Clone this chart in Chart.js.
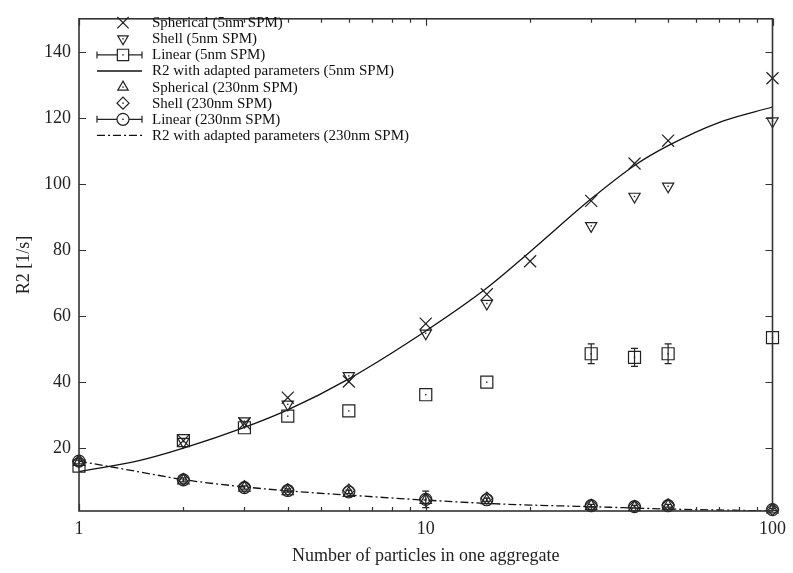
<!DOCTYPE html>
<html><head><meta charset="utf-8">
<script src="https://cdn.jsdelivr.net/npm/chart.js@4/dist/chart.umd.min.js"></script>
<style>html,body{margin:0;padding:0;background:#fff;}</style>
</head><body>
<canvas id="c" width="793" height="573"></canvas>
<script>
// ---- tick labels ----
const xTickValues = [1, 10, 100];
const xMinorTicks = [2,3,4,5,6,7,8,9,20,30,40,50,60,70,80,90];
const yTickValues = [20, 40, 60, 80, 100, 120, 140];

// ---- legend labels ----
const legendLabels = [
  'Spherical (5nm SPM)',
  'Shell (5nm SPM)',
  'Linear (5nm SPM)',
  'R2 with adapted parameters (5nm SPM)',
  'Spherical (230nm SPM)',
  'Shell (230nm SPM)',
  'Linear (230nm SPM)',
  'R2 with adapted parameters (230nm SPM)'
];

// ---- 5nm SPM ----
const spherical5X = [2, 3, 4, 6, 10, 15, 20, 30, 40, 50, 100];
const spherical5Y = [22.3, 27.5, 35.3, 40.2, 57.7, 66.6, 76.6, 94.9, 106.2, 113.1, 132.0];
const shell5X = [2, 3, 4, 6, 10, 15, 30, 40, 50, 100];
const shell5Y = [22.0, 28.2, 33.3, 41.9, 54.8, 63.8, 87.3, 96.2, 99.3, 119.0];
const linear5X = [1, 2, 3, 4, 6, 10, 15, 30, 40, 50, 100];
const linear5Y = [14.6, 22.3, 26.2, 29.7, 31.3, 36.2, 40.0, 48.6, 47.5, 48.6, 53.5];
const linear5Err = [0, 0, 0, 0, 0, 0, 0, 3.0, 2.7, 3.0, 0];
const fit5X = [1, 1.5, 2, 3, 4, 6, 10, 15, 20, 30, 40, 50, 70, 100];
const fit5Y = [12.9, 16.3, 20.0, 26.3, 31.6, 41.0, 55.5, 68.5, 79.5, 95.5, 105.6, 111.6, 118.6, 123.3];

// ---- 230nm SPM ----
const n230X = [1, 2, 3, 4, 6, 10, 15, 30, 40, 50, 100];
const spherical230Y = [15.8, 10.2, 8.0, 6.9, 6.4, 4.3, 4.2, 2.5, 2.1, 2.5, 1.4];
const shell230Y = [16.0, 10.6, 8.4, 7.5, 7.3, 4.6, 4.9, 2.7, 2.4, 2.9, 1.5];
const linear230Y = [16.1, 10.4, 8.1, 7.2, 6.8, 4.5, 4.4, 2.6, 2.3, 2.6, 1.4];
const linear230Err = [0.8, 0.6, 0.5, 0.5, 0.5, 2.5, 0.5, 0.4, 0.4, 0.4, 0.3];
const fit230X = [1, 1.5, 2, 3, 4, 6, 10, 15, 20, 30, 40, 50, 70, 100];
const fit230Y = [16.1, 12.8, 10.5, 8.3, 7.1, 5.8, 4.3, 3.3, 2.8, 2.3, 1.9, 1.6, 1.3, 1.0];

const INK = '#222';
const FONT = "'Liberation Serif', 'DejaVu Serif', serif";
const pts = (xs, ys) => xs.map((x, i) => ({x: x, y: ys[i]}));

function markerDS(label, xs, ys, style, radius, rotation, errs) {
  return {
    type: 'scatter', label: label, data: pts(xs, ys),
    pointStyle: style, pointRadius: radius, pointRotation: rotation || 0,
    pointBorderColor: INK, pointBackgroundColor: 'rgba(0,0,0,0)',
    pointBorderWidth: 1.2, pointHoverRadius: radius, showLine: false,
    clip: false, errors: errs || null
  };
}
function lineDS(label, xs, ys, dash) {
  return {
    type: 'line', label: label, data: pts(xs, ys),
    borderColor: '#111', borderWidth: 1.3, borderDash: dash,
    pointRadius: 0, fill: false, cubicInterpolationMode: 'monotone'
  };
}

const datasets = [
  markerDS(legendLabels[0], spherical5X, spherical5Y, 'crossRot', 8.5, 0),
  markerDS(legendLabels[1], shell5X, shell5Y, 'triangle', 6.5, 180),
  markerDS(legendLabels[2], linear5X, linear5Y, 'rect', 8.5, 0, linear5Err),
  lineDS(legendLabels[3], fit5X, fit5Y, []),
  markerDS(legendLabels[4], n230X, spherical230Y, 'triangle', 6.5, 0),
  markerDS(legendLabels[5], n230X, shell230Y, 'rectRot', 6, 0),
  markerDS(legendLabels[6], n230X, linear230Y, 'circle', 6, 0, linear230Err),
  lineDS(legendLabels[7], fit230X, fit230Y, [8, 3, 2, 3])
];

const gnuplotPlugin = {
  id: 'gnuplot',
  afterDatasetsDraw(chart) {
    const ctx = chart.ctx, xs = chart.scales.x, ys = chart.scales.y, a = chart.chartArea;
    chart.data.datasets.forEach((ds) => {
      if (ds.type !== 'scatter') return;
      ds.data.forEach((p, i) => {
        const px = xs.getPixelForValue(p.x), py = ys.getPixelForValue(p.y);
        ctx.save(); ctx.fillStyle = INK; ctx.fillRect(px - 0.7, py - 0.7, 1.4, 1.4); ctx.restore();
        if (ds.errors && ds.errors[i] > 0) {
          const y1 = ys.getPixelForValue(p.y - ds.errors[i]);
          const y2 = ys.getPixelForValue(p.y + ds.errors[i]);
          ctx.save(); ctx.strokeStyle = INK; ctx.lineWidth = 1.2; ctx.beginPath();
          ctx.moveTo(px, y1); ctx.lineTo(px, y2);
          ctx.moveTo(px - 3.5, y1); ctx.lineTo(px + 3.5, y1);
          ctx.moveTo(px - 3.5, y2); ctx.lineTo(px + 3.5, y2);
          ctx.stroke(); ctx.restore();
        }
      });
    });
    ctx.save();
    ctx.strokeStyle = '#333'; ctx.lineWidth = 1.6;
    ctx.strokeRect(a.left, a.top, a.right - a.left, a.bottom - a.top);
    ctx.lineWidth = 1.2; ctx.beginPath();
    yTickValues.forEach(v => {
      const py = Math.round(ys.getPixelForValue(v)) + 0.5;
      ctx.moveTo(a.left, py); ctx.lineTo(a.left + 7, py);
      ctx.moveTo(a.right, py); ctx.lineTo(a.right - 7, py);
    });
    xTickValues.forEach(v => {
      const px = Math.round(xs.getPixelForValue(v)) + 0.5;
      ctx.moveTo(px, a.bottom); ctx.lineTo(px, a.bottom - 7);
      ctx.moveTo(px, a.top); ctx.lineTo(px, a.top + 7);
    });
    xMinorTicks.forEach(v => {
      const px = Math.round(xs.getPixelForValue(v)) + 0.5;
      ctx.moveTo(px, a.bottom); ctx.lineTo(px, a.bottom - 4);
      ctx.moveTo(px, a.top); ctx.lineTo(px, a.top + 4);
    });
    ctx.stroke();
    ctx.restore();
  },
  afterDraw(chart) {
    const ctx = chart.ctx;
    const x0 = 97, x1 = 142, xc = 123, tx = 152, top = 22.7, step = 16.1;
    chart.data.datasets.forEach((ds, i) => {
      const y = top + i * step;
      ctx.save();
      if (ds.type === 'line') {
        ctx.strokeStyle = '#111'; ctx.lineWidth = 1.3; ctx.setLineDash(ds.borderDash || []);
        ctx.beginPath(); ctx.moveTo(x0, y); ctx.lineTo(x1, y); ctx.stroke();
        ctx.setLineDash([]);
      } else {
        if (ds.errors) {
          ctx.strokeStyle = INK; ctx.lineWidth = 1.2; ctx.beginPath();
          ctx.moveTo(x0, y); ctx.lineTo(x1, y);
          ctx.moveTo(x0, y - 3.5); ctx.lineTo(x0, y + 3.5);
          ctx.moveTo(x1, y - 3.5); ctx.lineTo(x1, y + 3.5);
          ctx.stroke();
        }
        const r = ds.pointStyle === 'crossRot' || ds.pointStyle === 'rect' ? 8 : 6;
        ctx.strokeStyle = INK; ctx.fillStyle = ds.errors ? '#fff' : 'rgba(0,0,0,0)';
        ctx.lineWidth = 1.2;
        Chart.helpers.drawPoint(ctx, {pointStyle: ds.pointStyle, radius: r,
          rotation: ds.pointRotation, borderWidth: 1.2}, xc, y);
        ctx.fillStyle = INK; ctx.fillRect(xc - 0.7, y - 0.7, 1.4, 1.4);
      }
      ctx.fillStyle = '#111'; ctx.font = "15px " + FONT;
      ctx.textBaseline = 'middle'; ctx.textAlign = 'left';
      ctx.fillText(legendLabels[i], tx, y + 0.5);
      ctx.restore();
    });
  }
};

new Chart(document.getElementById('c'), {
  type: 'scatter',
  data: {datasets: datasets},
  options: {
    responsive: false, animation: false, devicePixelRatio: 1,
    layout: {padding: {left: 0, right: 15, top: 7, bottom: 0}},
    plugins: {legend: {display: false}, tooltip: {enabled: false}},
    scales: {
      x: {
        type: 'logarithmic', min: 1, max: 100, position: 'bottom',
        grid: {display: false, drawTicks: false, tickLength: 0},
        border: {display: false},
        afterBuildTicks: s => { s.ticks = xTickValues.map(v => ({value: v})); },
        afterFit: s => { s.height = 62; },
        ticks: {color: '#222', padding: 7, maxRotation: 0, autoSkip: false,
          font: {family: FONT, size: 18}, callback: v => String(v)},
        title: {display: true, text: 'Number of particles in one aggregate', color: '#222',
          font: {family: FONT, size: 18}, padding: {top: 0, bottom: 6}}
      },
      y: {
        type: 'linear', min: 1, max: 150, position: 'left',
        grid: {display: false, drawTicks: false, tickLength: 0},
        border: {display: false},
        afterBuildTicks: s => { s.ticks = yTickValues.map(v => ({value: v})); },
        afterFit: s => { s.width = 79; },
        ticks: {color: '#222', padding: 8, font: {family: FONT, size: 18}, callback: v => String(v)},
        title: {display: true, text: 'R2 [1/s]', color: '#222',
          font: {family: FONT, size: 18}, padding: {top: 13, bottom: 0}}
      }
    }
  },
  plugins: [gnuplotPlugin]
});
</script>
</body></html>
